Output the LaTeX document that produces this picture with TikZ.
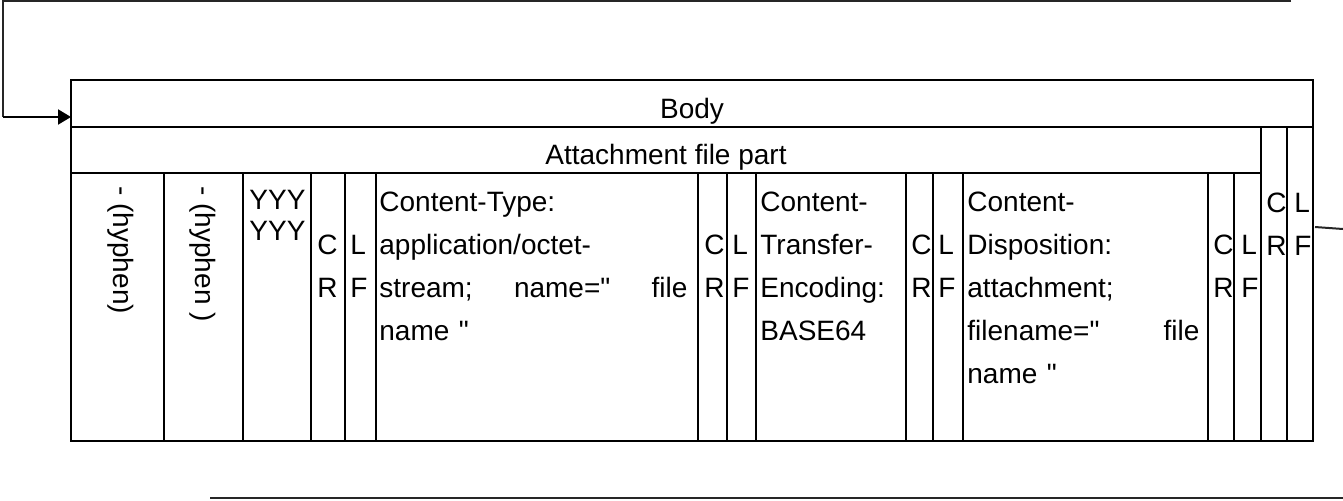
\documentclass[tikz,border=0pt]{standalone}
\usepackage{fontspec}
\setmainfont{Liberation Sans}
\usetikzlibrary{arrows.meta,positioning}
\pgfdeclarelayer{edgelayer}
\pgfdeclarelayer{nodelayer}
\pgfsetlayers{edgelayer,nodelayer,main}
\newcommand{\cellfont}{\fontsize{14}{21.5}\selectfont}
\newcommand{\dq}{\textquotedbl}
\tikzstyle{none}=[inner sep=0pt]
\tikzstyle{headtext}=[anchor=base, inner sep=0pt, font=\cellfont]
\tikzstyle{celltext}=[anchor=north west, inner sep=0pt, align=left, font=\cellfont]
\tikzstyle{sidetext}=[anchor=west, inner sep=0pt, rotate=-90, font=\cellfont]
\tikzstyle{grid}=[-, draw=black, line width=1.25pt]
\tikzstyle{simple}=[-, draw=black!85, line width=1pt]
\tikzstyle{inarrow}=[-{Triangle[length=6.5pt,width=7.5pt]}, draw=black, line width=1pt]

\begin{document}
\begin{tikzpicture}[x=0.5pt,y=-0.5pt]
	\useasboundingbox (0,0) rectangle (1343,500);
	\begin{pgfonlayer}{nodelayer}
		\node [style=headtext] (body) at (692,118) {Body};
		\node [style=headtext] (part) at (666,164) {Attachment file part};
		\node [style=sidetext] (hyph1) at (121,186) {- (hyphen)};
		\node [style=sidetext] (hyph2) at (203,186) {- (hyphen )};
		\node [style=celltext, font=\fontsize{14}{15.5}\selectfont] (yyy) at (249,190) {YYY\\YYY};
		\node [style=celltext] (cr1) at (317,235) {C\\R};
		\node [style=celltext] (lf1) at (350,235) {L\\F};
		\node [style=celltext, text width=154pt] (ctype) at (379,192) {Content-Type:\\application/octet-\\stream;\hfill name=\dq\hfill file\\name \dq};
		\node [style=celltext] (cr2) at (704,235) {C\\R};
		\node [style=celltext] (lf2) at (732,235) {L\\F};
		\node [style=celltext] (ctrans) at (760,192) {Content-\\Transfer-\\Encoding:\\BASE64};
		\node [style=celltext] (cr3) at (911,235) {C\\R};
		\node [style=celltext] (lf3) at (938,235) {L\\F};
		\node [style=celltext, text width=116pt] (cdisp) at (967,192) {Content-\\Disposition:\\attachment;\\filename=\dq\hfill file\\name \dq};
		\node [style=celltext] (cr4) at (1213,235) {C\\R};
		\node [style=celltext] (lf4) at (1241,235) {L\\F};
		\node [style=celltext] (cr5) at (1266,193) {C\\R};
		\node [style=celltext] (lf5) at (1294,193) {L\\F};
		\node [style=none] (topR) at (1291,1) {};
		\node [style=none] (topL) at (3,1) {};
		\node [style=none] (bend) at (3,117) {};
		\node [style=none] (bodyIn) at (71,117) {};
		\node [style=none] (sideA) at (1315,227) {};
		\node [style=none] (sideB) at (1343,229) {};
		\node [style=none] (lowA) at (210,498) {};
		\node [style=none] (lowB) at (1343,498) {};
	\end{pgfonlayer}
	\begin{pgfonlayer}{edgelayer}
		\draw [style=grid] (71,80) rectangle (1313,441);
		\draw [style=grid] (71,127) -- (1313,127);
		\draw [style=grid] (71,173) -- (1261,173);
		\draw [style=grid] (1261,127) -- (1261,441) (1287,127) -- (1287,441);
		\draw [style=grid] (164,173) -- (164,441) (243,173) -- (243,441)
			(311,173) -- (311,441) (345,173) -- (345,441) (376,173) -- (376,441)
			(698,173) -- (698,441) (727,173) -- (727,441) (756,173) -- (756,441)
			(906,173) -- (906,441) (933,173) -- (933,441) (963,173) -- (963,441)
			(1208,173) -- (1208,441) (1234,173) -- (1234,441);
		\draw [style=simple] (topR.center) to (topL.center) to (bend.center);
		\draw [style=inarrow] (bend.center) to (bodyIn.center);
		\draw [style=simple] (sideA.center) to (sideB.center);
		\draw [style=simple] (lowA.center) to (lowB.center);
	\end{pgfonlayer}
\end{tikzpicture}
\end{document}
